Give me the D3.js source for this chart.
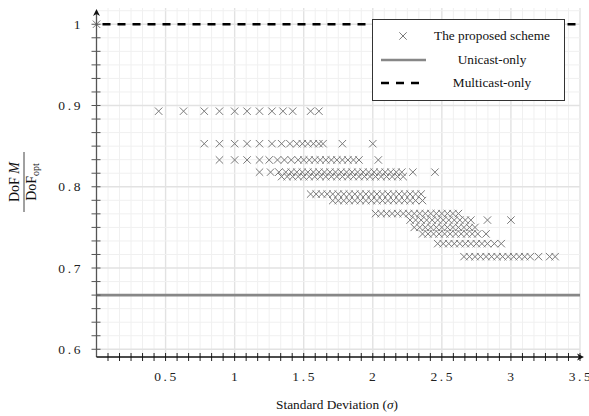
<!DOCTYPE html>
<html lang="en">
<head>
<meta charset="UTF-8">
<title>DoF vs Standard Deviation</title>
<script src="https://d3js.org/d3.v7.min.js"></script>
<style type="text/css">
    body { margin: 0; background: #fff; }
    .tickLabel { font-family: "Liberation Serif", serif; font-size: 13.5px; letter-spacing: 2.6px; fill: #222; }
    .legendText { font-family: "Liberation Serif", serif; font-size: 13.3px; fill: #111; }
    .fracText { font-family: "Liberation Serif", serif; font-size: 14px; fill: #111; }
</style>
</head>
<body>
<div id="svgDiv"></div>
<script type="text/javascript">

    // levels of the normalized DoF (rows of crosses) and the sigma values of each row
    var rowLevels = [1.0, 0.893, 0.853, 0.833, 0.818, 0.8125, 0.791, 0.783, 0.767, 0.759, 0.75, 0.742, 0.73, 0.714];
    var rowSigmas = [
        [0],
        [0.45, 0.63, 0.78, 0.89, 1.0, 1.09, 1.18, 1.27, 1.35, 1.42, 1.55, 1.61],
        [0.78, 0.89, 1.0, 1.09, 1.18, 1.27, 1.34, 1.40, 1.45, 1.49, 1.53, 1.57, 1.61, 1.64, 1.78, 2.0],
        [0.89, 1.0, 1.09, 1.18, 1.25, 1.31, 1.36, 1.41, 1.46, 1.5, 1.54, 1.58, 1.62, 1.66, 1.7, 1.74, 1.78, 1.82, 1.86, 1.9, 2.04],
        [1.18, 1.26, 1.32, 1.37, 1.41, 1.45, 1.49, 1.53, 1.57, 1.61, 1.65, 1.69, 1.73, 1.77, 1.81, 1.85, 1.89, 1.93, 1.97, 2.01, 2.05, 2.09, 2.13, 2.17, 2.21, 2.29, 2.45],
        [1.34, 1.38, 1.42, 1.46, 1.5, 1.54, 1.58, 1.62, 1.66, 1.7, 1.74, 1.78, 1.82, 1.86, 1.9, 1.94, 1.98, 2.02, 2.06, 2.1, 2.14, 2.18, 2.22],
        [1.55, 1.59, 1.63, 1.67, 1.71, 1.75, 1.79, 1.83, 1.87, 1.91, 1.95, 1.99, 2.03, 2.07, 2.11, 2.15, 2.19, 2.23, 2.27, 2.31, 2.35],
        [1.71, 1.75, 1.79, 1.83, 1.87, 1.91, 1.95, 1.99, 2.03, 2.07, 2.11, 2.15, 2.19, 2.23, 2.27, 2.31, 2.36],
        [2.02, 2.06, 2.1, 2.14, 2.18, 2.22, 2.26, 2.3, 2.34, 2.38, 2.42, 2.46, 2.5, 2.54, 2.58, 2.62],
        [2.27, 2.31, 2.35, 2.39, 2.43, 2.47, 2.51, 2.55, 2.59, 2.63, 2.67, 2.71, 2.83, 3.0],
        [2.3, 2.34, 2.38, 2.42, 2.46, 2.5, 2.54, 2.58, 2.62, 2.66, 2.7, 2.74],
        [2.36, 2.4, 2.44, 2.48, 2.52, 2.56, 2.6, 2.64, 2.68, 2.72, 2.76, 2.82],
        [2.47, 2.51, 2.55, 2.59, 2.63, 2.67, 2.71, 2.75, 2.79, 2.83, 2.88, 2.93],
        [2.66, 2.7, 2.74, 2.78, 2.82, 2.86, 2.9, 2.94, 2.98, 3.02, 3.06, 3.1, 3.14, 3.2, 3.28, 3.32]
    ];

    // baselines
    var unicastLevel = 2 / 3;
    var multicastLevel = 1.0;

    var xTicks = [0.5, 1, 1.5, 2, 2.5, 3, 3.5];
    var xTickLabels = ["0.5", "1", "1.5", "2", "2.5", "3", "3.5"];
    var yTicks = [0.6, 0.7, 0.8, 0.9, 1.0];
    var yTickLabels = ["0.6", "0.7", "0.8", "0.9", "1"];
    var legendLabels = ["The proposed scheme", "Unicast-only", "Multicast-only"];

    var svg, xScale, yScale, svgWidth = 589, svgHeight = 416;

    document.addEventListener('DOMContentLoaded', function(){

        svg = d3.select("#svgDiv")
            .append("svg")
            .attr("width", svgWidth)
            .attr("height", svgHeight);

        xScale = d3.scaleLinear().domain([0, 3.5]).range([96.5, 580]);
        yScale = d3.scaleLinear().domain([0.5905, 1.02]).range([357, 8]);

        drawGrid();
        drawLines();
        drawCrosses();
        drawAxes();
        drawLegend();
    });

    //minor and major grid lines
    function drawGrid(){
        var xMinor = d3.range(1, 43).map(function(i){ return i * 0.5 / 6; });
        var yMinor = d3.range(0, 26).map(function(i){ return 0.6 + i * 0.1 / 6; });

        var g = svg.append("g");
        g.selectAll("line.xg").data(xMinor).enter().append("line")
            .attr("x1", function(d){ return xScale(d); })
            .attr("x2", function(d){ return xScale(d); })
            .attr("y1", yScale.range()[0])
            .attr("y2", yScale.range()[1])
            .attr("stroke", function(d){ return Math.abs(d * 2 - Math.round(d * 2)) < 1e-6 ? "#e2e2e2" : "#f0f0f0"; })
            .attr("stroke-width", function(d){ return Math.abs(d * 2 - Math.round(d * 2)) < 1e-6 ? 1.4 : 1; });

        g.selectAll("line.yg").data(yMinor).enter().append("line")
            .attr("x1", xScale.range()[0])
            .attr("x2", xScale.range()[1])
            .attr("y1", function(d){ return yScale(d); })
            .attr("y2", function(d){ return yScale(d); })
            .attr("stroke", function(d){ return Math.abs(d * 10 - Math.round(d * 10)) < 1e-6 ? "#e2e2e2" : "#f0f0f0"; })
            .attr("stroke-width", function(d){ return Math.abs(d * 10 - Math.round(d * 10)) < 1e-6 ? 1.4 : 1; });
    }

    //unicast and multicast reference lines
    function drawLines(){
        svg.append("line")
            .attr("x1", xScale(0)).attr("x2", xScale(3.5))
            .attr("y1", yScale(unicastLevel)).attr("y2", yScale(unicastLevel))
            .attr("stroke", "#878787").attr("stroke-width", 2.6);

        svg.append("line")
            .attr("x1", xScale(0) + 6).attr("x2", xScale(3.5))
            .attr("y1", yScale(multicastLevel)).attr("y2", yScale(multicastLevel))
            .attr("stroke", "#000").attr("stroke-width", 2.6)
            .attr("stroke-dasharray", "8,7");
    }

    function crossPath(s){
        return "M" + (-s) + "," + (-s) + "L" + s + "," + s + "M" + (-s) + "," + s + "L" + s + "," + (-s);
    }

    //draws the scatter of the proposed scheme
    function drawCrosses(){
        var points = [];
        rowLevels.forEach(function(level, i){
            rowSigmas[i].forEach(function(s){
                points.push({x: s, y: level});
            });
        });

        svg.append("g").selectAll("path").data(points).enter().append("path")
            .attr("d", crossPath(3.7))
            .attr("transform", function(d){ return "translate(" + xScale(d.x) + "," + yScale(d.y) + ")"; })
            .attr("fill", "none")
            .attr("stroke", "#7a7a7a")
            .attr("stroke-width", 1);
    }

    function drawAxes(){
        var x0 = xScale(0), yBase = yScale.range()[0];

        //x axis ticks
        var xMinorTicks = d3.range(1, 43).map(function(i){ return i * 0.5 / 6; });
        svg.append("g").selectAll("line").data(xMinorTicks).enter().append("line")
            .attr("x1", function(d){ return xScale(d); })
            .attr("x2", function(d){ return xScale(d); })
            .attr("y1", yBase - 4).attr("y2", yBase + 4)
            .attr("stroke", "#222").attr("stroke-width", 1);

        //y axis ticks
        var yMinorTicks = d3.range(0, 25).map(function(i){ return 0.6 + i * 0.1 / 6; });
        svg.append("g").selectAll("line").data(yMinorTicks).enter().append("line")
            .attr("x1", x0 - 5).attr("x2", x0 + 4)
            .attr("y1", function(d){ return yScale(d); })
            .attr("y2", function(d){ return yScale(d); })
            .attr("stroke", "#555").attr("stroke-width", 1);

        //axis lines with arrows
        svg.append("line")
            .attr("x1", x0).attr("x2", x0)
            .attr("y1", yBase).attr("y2", 12)
            .attr("stroke", "#555").attr("stroke-width", 1.3);
        svg.append("path")
            .attr("d", "M" + x0 + ",9 L" + (x0 + 3.5) + ",16 L" + x0 + ",14 L" + (x0 - 3.5) + ",16 Z")
            .attr("fill", "#111");

        svg.append("line")
            .attr("x1", x0).attr("x2", 581)
            .attr("y1", yBase).attr("y2", yBase)
            .attr("stroke", "#111").attr("stroke-width", 1.3);
        svg.append("path")
            .attr("d", "M584," + yBase + " L577," + (yBase - 3.5) + " L579," + yBase + " L577," + (yBase + 3.5) + " Z")
            .attr("fill", "#111");

        //tick labels
        svg.append("g").selectAll("text").data(xTicks).enter().append("text")
            .attr("class", "tickLabel")
            .attr("x", function(d){ return xScale(d) + 1; })
            .attr("y", 381)
            .attr("text-anchor", "middle")
            .text(function(d, i){ return xTickLabels[i]; });

        svg.append("g").selectAll("text").data(yTicks).enter().append("text")
            .attr("class", "tickLabel")
            .attr("x", 83)
            .attr("y", function(d){ return yScale(d) + 4.5; })
            .attr("text-anchor", "end")
            .text(function(d, i){ return yTickLabels[i]; });

        //x axis title
        var xt = svg.append("text")
            .attr("class", "legendText")
            .attr("x", 337).attr("y", 409)
            .attr("text-anchor", "middle");
        xt.append("tspan").text("Standard Deviation (");
        xt.append("tspan").attr("font-style", "italic").text("σ");
        xt.append("tspan").text(")");

        //y axis title as a fraction
        var yt = svg.append("g").attr("transform", "translate(24,182) rotate(-90)");
        var num = yt.append("text").attr("class", "fracText").attr("x", 0).attr("y", -5).attr("text-anchor", "middle");
        num.append("tspan").text("DoF ");
        num.append("tspan").attr("font-style", "italic").text("M");
        yt.append("line").attr("x1", -30).attr("x2", 30).attr("y1", 0).attr("y2", 0)
            .attr("stroke", "#111").attr("stroke-width", 0.8);
        var den = yt.append("text").attr("class", "fracText").attr("x", 0).attr("y", 12).attr("text-anchor", "middle");
        den.append("tspan").text("DoF");
        den.append("tspan").attr("font-size", "10px").attr("dy", 3).text("opt");
    }

    //legend box
    function drawLegend(){
        var lg = svg.append("g");
        lg.append("rect")
            .attr("x", 372.5).attr("y", 19.5)
            .attr("width", 192).attr("height", 81)
            .attr("fill", "#fff").attr("stroke", "#333").attr("stroke-width", 1);

        lg.append("path")
            .attr("d", crossPath(3.7))
            .attr("transform", "translate(403,36)")
            .attr("fill", "none").attr("stroke", "#7a7a7a").attr("stroke-width", 1);

        lg.append("line").attr("x1", 381).attr("x2", 426).attr("y1", 60).attr("y2", 60)
            .attr("stroke", "#878787").attr("stroke-width", 2.6);
        lg.append("line").attr("x1", 381).attr("x2", 426).attr("y1", 83).attr("y2", 83)
            .attr("stroke", "#000").attr("stroke-width", 2.6).attr("stroke-dasharray", "8,7");

        lg.selectAll("text.leg").data(legendLabels).enter().append("text")
            .attr("class", "legendText")
            .attr("x", 492)
            .attr("y", function(d, i){ return 40 + i * 23.5; })
            .attr("text-anchor", "middle")
            .text(function(d){ return d; });
    }

</script>
</body>
</html>
